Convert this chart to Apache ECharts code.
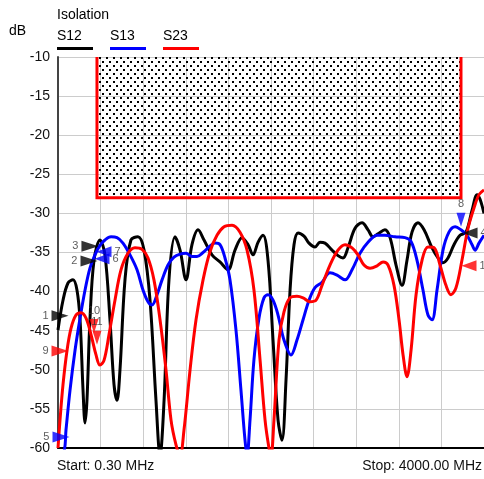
<!DOCTYPE html>
<html>
<head>
<meta charset="utf-8">
<script src="https://cdn.jsdelivr.net/npm/echarts@6/dist/echarts.min.js"></script>
<style>
  html, body { margin: 0; padding: 0; background: #fff; }
  #chart { width: 484px; height: 479px; }
</style>
</head>
<body>
<div id="chart"></div>
<script>
// 频率 MHz / 隔离度 dB
const seriesNames = ['S12', 'S13', 'S23'];
const seriesColors = ['#000000', '#0000ff', '#ff0000'];

const s12Freq = [0, 47, 94, 141, 178, 207, 235, 254, 272, 300, 338, 394, 441, 488, 526, 554, 582, 629, 685, 751, 808, 864, 920, 958, 996, 1042, 1099, 1146, 1202, 1258, 1315, 1371, 1446, 1521, 1596, 1662, 1728, 1784, 1831, 1878, 1925, 1972, 2019, 2066, 2103, 2141, 2179, 2216, 2254, 2310, 2357, 2413, 2460, 2507, 2573, 2629, 2676, 2723, 2789, 2855, 2911, 2958, 3005, 3070, 3118, 3174, 3230, 3277, 3324, 3380, 3437, 3512, 3568, 3615, 3662, 3718, 3775, 3831, 3888, 3935, 3963, 4000];
const s12Db = [-44.9, -41.1, -38.9, -38.5, -39.8, -43.6, -52.6, -56.8, -53.9, -43.6, -36.0, -33.4, -35.3, -43.6, -51.9, -53.9, -50.0, -38.5, -33.4, -33.0, -34.7, -41.1, -53.9, -61, -53.9, -38.5, -33.0, -34.7, -38.5, -34.0, -32.1, -33.4, -35.3, -36.2, -37.2, -34.7, -33.1, -34.0, -35.3, -33.7, -32.8, -36.0, -46.2, -56.4, -59.0, -51.3, -39.8, -34.0, -32.5, -32.9, -33.8, -34.3, -33.7, -33.8, -34.7, -35.4, -35.7, -34.4, -31.9, -31.2, -32.1, -33.0, -32.6, -32.1, -33.1, -36.6, -39.2, -36.0, -32.4, -31.2, -32.1, -34.4, -35.7, -36.3, -35.7, -34.0, -32.8, -32.4, -29.6, -27.6, -28.2, -30.0];

const s13Freq = [0, 55, 75, 113, 160, 207, 254, 300, 347, 394, 441, 498, 554, 610, 676, 742, 798, 845, 883, 930, 977, 1033, 1089, 1146, 1202, 1258, 1305, 1362, 1418, 1474, 1521, 1568, 1615, 1671, 1718, 1756, 1775, 1803, 1840, 1887, 1934, 1972, 2019, 2066, 2122, 2188, 2244, 2301, 2357, 2413, 2479, 2554, 2620, 2695, 2761, 2836, 2911, 2996, 3070, 3164, 3258, 3315, 3371, 3427, 3474, 3512, 3559, 3615, 3671, 3728, 3784, 3840, 3888, 3916, 3953, 4000];
const s13Db = [-61, -60.5, -57.7, -52.6, -47.5, -43.4, -39.8, -37.0, -35.3, -34.1, -33.4, -33.0, -33.1, -33.8, -35.3, -37.2, -39.8, -41.3, -41.7, -40.4, -38.5, -36.6, -35.6, -35.2, -35.1, -35.5, -35.5, -35.0, -34.3, -33.8, -34.0, -35.7, -38.5, -44.9, -52.6, -59.0, -61, -56.4, -48.7, -43.4, -40.8, -40.4, -41.1, -43.0, -46.2, -48.1, -46.2, -43.6, -41.1, -39.5, -38.8, -37.6, -37.9, -38.5, -37.2, -35.1, -33.7, -32.8, -32.8, -33.0, -33.1, -33.6, -36.0, -39.8, -43.0, -43.6, -39.8, -34.7, -32.4, -31.7, -32.1, -32.8, -34.0, -34.7, -33.8, -32.8];

const s23Freq = [0, 19, 47, 85, 122, 169, 216, 263, 310, 357, 394, 432, 479, 535, 592, 657, 723, 789, 845, 901, 958, 1014, 1061, 1108, 1146, 1183, 1240, 1296, 1362, 1427, 1493, 1559, 1634, 1709, 1775, 1840, 1897, 1944, 1981, 2000, 2028, 2075, 2122, 2179, 2244, 2301, 2366, 2423, 2479, 2554, 2629, 2695, 2761, 2817, 2873, 2930, 2996, 3052, 3099, 3155, 3202, 3240, 3277, 3315, 3362, 3418, 3474, 3531, 3587, 3643, 3690, 3737, 3793, 3850, 3906, 3953, 4000];
const s23Db = [-60, -56.4, -51.9, -47.5, -44.7, -43.0, -42.7, -43.4, -45.5, -48.1, -49.4, -48.8, -45.5, -41.1, -37.2, -35.1, -34.4, -34.6, -35.7, -38.5, -43.6, -50.0, -56.4, -59.6, -61, -57.7, -50.0, -43.6, -38.5, -34.9, -32.8, -31.7, -31.5, -32.4, -34.7, -39.8, -48.7, -56.4, -60, -61, -56.4, -46.2, -42.6, -40.8, -40.6, -40.8, -41.3, -41.1, -39.2, -36.6, -34.7, -34.0, -34.4, -35.3, -36.6, -37.0, -36.7, -36.2, -36.6, -39.2, -43.6, -48.1, -50.9, -47.5, -40.4, -36.0, -34.3, -34.4, -36.6, -39.2, -40.4, -39.5, -36.0, -31.9, -29.3, -27.6, -27.0];

// 限值框
const maskFreq = [366, 3784];
const maskDb = [-10, -28];

// 标记
const markerNames = ['1', '2', '3', '4', '5', '6', '7', '8', '9', '10', '11', '12'];
const markerFreq = [19, 291, 300, 3869, 28, 413, 432, 3784, 19, 338, 366, 3859];
const markerDb = [-43.1, -36.1, -34.2, -32.5, -58.6, -35.8, -34.9, -30.8, -47.6, -44.4, -45.9, -36.7];
const markerTrace = [0, 0, 0, 0, 1, 1, 1, 1, 2, 2, 2, 2];

const yTicks = [-60, -55, -50, -45, -40, -35, -30, -25, -20, -15, -10];
const startText = 'Start: 0.30 MHz';
const stopText = 'Stop: 4000.00 MHz';

const FONT = '"Liberation Sans", Arial, sans-serif';

// dot pattern for the mask
function makeDots() {
  const c = document.createElement('canvas');
  c.width = 14;
  c.height = 8;
  const ctx = c.getContext('2d');
  ctx.fillStyle = '#000';
  ctx.fillRect(1, 1, 2, 2);
  ctx.fillRect(8, 1, 2, 2);
  ctx.fillRect(4, 5, 2, 2);
  ctx.fillRect(11, 5, 2, 2);
  return c;
}

// marker 方向 (right / left / down)
const markerDir = { '1': 'r', '2': 'r', '3': 'r', '4': 'l', '5': 'r', '6': 'l', '7': 'l', '8': 'd', '9': 'r', '10': 'd', '11': 'd', '12': 'l' };

function markerItem(i) {
  const name = markerNames[i];
  const dir = markerDir[name];
  let rot = -90, pos = 'left', size = [11, 17];
  if (dir === 'l') { rot = 90; pos = 'right'; size = [11, 15]; }
  if (dir === 'd') { rot = 180; pos = 'top'; size = [9, 14]; }
  return {
    name: name,
    value: [markerFreq[i], markerDb[i]],
    symbolRotate: rot,
    symbolSize: size,
    label: { show: true, position: pos, distance: 3, formatter: name }
  };
}

const traces = [[s12Freq, s12Db], [s13Freq, s13Db], [s23Freq, s23Db]];

const series = [];
traces.forEach((t, k) => {
  series.push({
    name: seriesNames[k],
    type: 'line',
    data: t[0].map((f, i) => [f, t[1][i]]),
    symbol: 'none',
    smooth: 0.35,
    clip: true,
    lineStyle: { color: seriesColors[k], width: 3 },
    z: 3
  });
});

// mask outline + dots
series.push({
  name: 'mask',
  type: 'line',
  data: [[maskFreq[0], maskDb[0]], [maskFreq[0], maskDb[1]], [maskFreq[1], maskDb[1]], [maskFreq[1], maskDb[0]]],
  symbol: 'none',
  lineStyle: { color: '#ff0000', width: 3, join: 'miter' },
  z: 2,
  markArea: {
    silent: true,
    itemStyle: { color: { image: makeDots(), repeat: 'repeat' }, borderWidth: 0 },
    data: [[{ coord: [maskFreq[0], maskDb[0]] }, { coord: [maskFreq[1], maskDb[1]] }]]
  }
});

seriesColors.forEach((c, k) => {
  const items = [];
  markerTrace.forEach((tr, i) => { if (tr === k) items.push(markerItem(i)); });
  series.push({
    type: 'scatter',
    symbol: 'triangle',
    data: items,
    clip: false,
    itemStyle: { color: c },
    label: { color: '#333', fontSize: 11, fontFamily: FONT },
    z: 5
  });
});

// legend 手动画
const legendGraphics = [];
seriesNames.forEach((n, k) => {
  const x = 57 + k * 53;
  legendGraphics.push({
    type: 'text', left: x, top: 29,
    style: { text: n, fill: '#000', font: '14px ' + FONT }
  });
  legendGraphics.push({
    type: 'rect', left: x, top: 47,
    shape: { width: 36, height: 3 },
    style: { fill: seriesColors[k] }
  });
});

const chart = echarts.init(document.getElementById('chart'), null, { renderer: 'canvas' });
chart.setOption({
  animation: false,
  backgroundColor: '#fff',
  title: {
    text: 'Isolation', left: 52, top: 3,
    textStyle: { fontSize: 14, fontWeight: 'normal', color: '#000', fontFamily: FONT }
  },
  grid: { left: 58, right: 0, top: 57, bottom: 31, containLabel: false },
  xAxis: {
    type: 'value', min: 0, max: 4000, interval: 400,
    axisLine: { show: true, onZero: false, lineStyle: { color: '#000', width: 2 } },
    axisTick: { show: false },
    axisLabel: { show: false },
    splitLine: { show: true, lineStyle: { color: '#cccccc', width: 1 } }
  },
  yAxis: {
    type: 'value', min: yTicks[0], max: yTicks[yTicks.length - 1], interval: 5,
    axisLine: { show: true, onZero: false, lineStyle: { color: '#444', width: 2 } },
    axisTick: { show: false },
    axisLabel: { color: '#111', fontSize: 14, fontFamily: FONT, margin: 8 },
    splitLine: { show: true, lineStyle: { color: '#cccccc', width: 1 } }
  },
  graphic: legendGraphics.concat([
    { type: 'text', left: 9, top: 24, style: { text: 'dB', fill: '#000', font: '14px ' + FONT } },
    { type: 'text', left: 57, top: 459, style: { text: startText, fill: '#111', font: '14px ' + FONT } },
    { type: 'text', right: 2, top: 459, style: { text: stopText, fill: '#111', font: '14px ' + FONT } }
  ]),
  series: series
});
</script>
</body>
</html>
